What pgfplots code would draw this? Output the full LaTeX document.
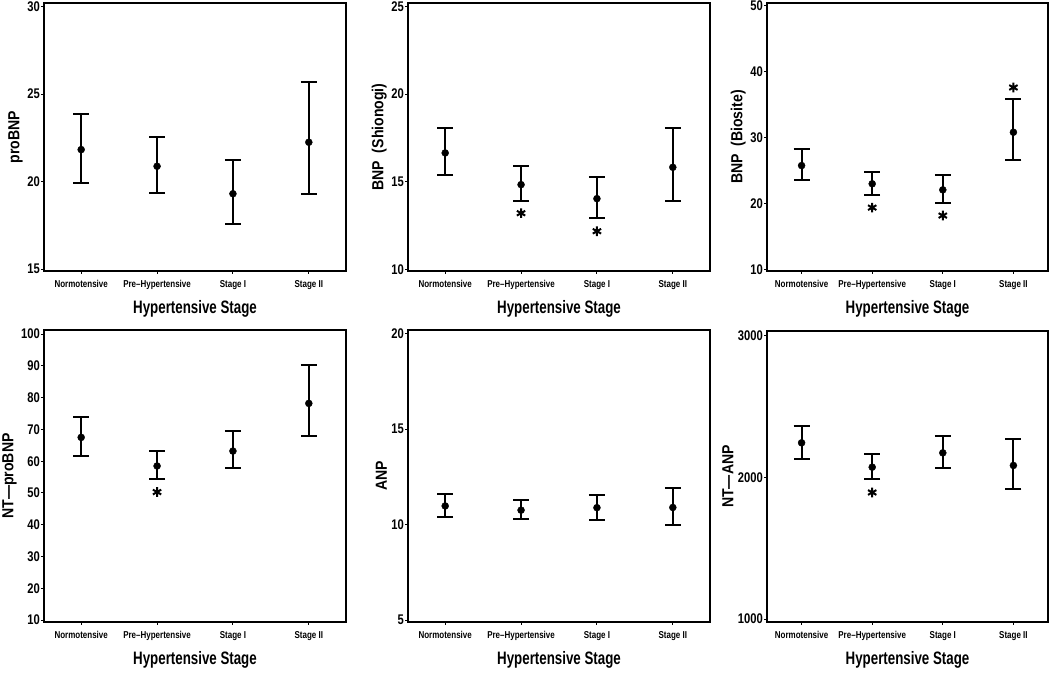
\documentclass[border=0pt]{standalone}
\usepackage{pgfplots}
\pgfplotsset{compat=1.18}
\usepackage{fontspec}
\setmainfont{Liberation Sans}
\newfontfamily\cnd{Liberation Sans}[FakeStretch=0.8]
\newfontfamily\cndx{Liberation Sans}[FakeStretch=0.74]
\newfontfamily\cndy{Liberation Sans}[FakeStretch=0.88]
\pgfplotsset{
  bp/.style={
    scale only axis,
    xmin=-0.49, xmax=3.49,
    xtick={0,1,2,3},
    xticklabels={Normotensive, Pre–Hypertensive, Stage I, Stage II},
    axis line style={line width=2.4pt},
    tick style={line width=1pt, black},
    tick align=outside, major tick length=3pt,
    xtick pos=bottom, ytick pos=left,
    /pgf/number format/assume math mode=true,
    /pgf/number format/1000 sep={},
    xticklabel style={font=\cnd\bfseries\fontsize{10}{10}\selectfont, yshift=-3pt},
    yticklabel style={font=\cnd\bfseries\fontsize{14}{14}\selectfont, inner xsep=1pt},
    xlabel={Hypertensive Stage},
    xlabel style={font=\cndx\bfseries\fontsize{18}{18}\selectfont, yshift=-4pt},
    ylabel style={font=\cndy\bfseries\fontsize{16}{16}\selectfont},
    clip=false,
  },
  eb/.style={black, only marks, mark=*, mark size=3.5pt,
    mark options={fill=black, draw=black},
    error bars/.cd, y dir=both, y explicit,
    error bar style={line width=2pt, black},
    error mark=-,
    error mark options={rotate=90, line width=2pt, mark size=8pt, black}},
  ast/.style={black, only marks, mark=asterisk, mark size=4.8pt, line width=2pt},
}
\begin{document}
\begin{tikzpicture}
\useasboundingbox (0,0) rectangle (1050pt,677pt);
% Panel 1
\begin{axis}[bp, at={(44pt,406pt)}, anchor=south west, width=302pt, height=268pt,
  ymin=14.9, ymax=30.2, ytick={15,20,25,30}, ylabel={proBNP}]
\addplot[eb] table[x=x, y=y, y error plus=ep, y error minus=em] {
x y ep em
0 21.83 2.04 1.88
1 20.88 1.66 1.53
2 19.31 1.91 1.73
3 22.25 3.46 2.96
};
\end{axis}
% Panel 2
\begin{axis}[bp, at={(408pt,406pt)}, anchor=south west, width=302pt, height=268pt,
  ymin=9.9, ymax=25.2, ytick={10,15,20,25}, ylabel={BNP\ \ (Shionogi)}]
\addplot[eb] table[x=x, y=y, y error plus=ep, y error minus=em] {
x y ep em
0 16.64 1.41 1.26
1 14.83 1.05 0.96
2 14.03 1.26 1.13
3 15.82 2.23 1.91
};
\addplot[ast] table {
1 13.2
2 12.17
};
\end{axis}
% Panel 3
\begin{axis}[bp, at={(767pt,406pt)}, anchor=south west, width=281pt, height=268pt,
  ymin=9.8, ymax=50.4, ytick={10,20,30,40,50}, ylabel={BNP\ \ (Biosite)}]
\addplot[eb] table[x=x, y=y, y error plus=ep, y error minus=em] {
x y ep em
0 25.77 2.50 2.20
1 23.01 1.79 1.73
2 22.09 2.30 1.99
3 30.82 5.00 4.19
};
\addplot[ast] table {
1 19.4
2 18.2
3 37.6
};
\end{axis}
% Panel 4
\begin{axis}[bp, at={(44pt,55pt)}, anchor=south west, width=302pt, height=292pt,
  ymin=9.4, ymax=101.3, ytick={10,20,...,100}, ylabel={NT—proBNP}]
\addplot[eb] table[x=x, y=y, y error plus=ep, y error minus=em] {
x y ep em
0 67.5 6.3 5.9
1 58.5 4.7 4.1
2 63.2 6.3 5.4
3 78.2 12.2 10.3
};
\addplot[ast] table {
1 50.3
};
\end{axis}
% Panel 5
\begin{axis}[bp, at={(408pt,55pt)}, anchor=south west, width=302pt, height=292pt,
  ymin=4.9, ymax=20.2, ytick={5,10,15,20}, ylabel={ANP}]
\addplot[eb] table[x=x, y=y, y error plus=ep, y error minus=em] {
x y ep em
0 10.98 0.63 0.59
1 10.76 0.53 0.46
2 10.89 0.69 0.62
3 10.90 1.02 0.92
};
\end{axis}
% Panel 6
\begin{axis}[bp, at={(767pt,55pt)}, anchor=south west, width=281pt, height=291pt,
  ymin=979, ymax=3035, ytick={1000,2000,3000}, ylabel={NT—ANP}]
\addplot[eb] table[x=x, y=y, y error plus=ep, y error minus=em] {
x y ep em
0 2245 120 111
1 2073 92 85
2 2174 120 108
3 2085 186 165
};
\addplot[ast] table {
1 1894
};
\end{axis}
\end{tikzpicture}
\end{document}
